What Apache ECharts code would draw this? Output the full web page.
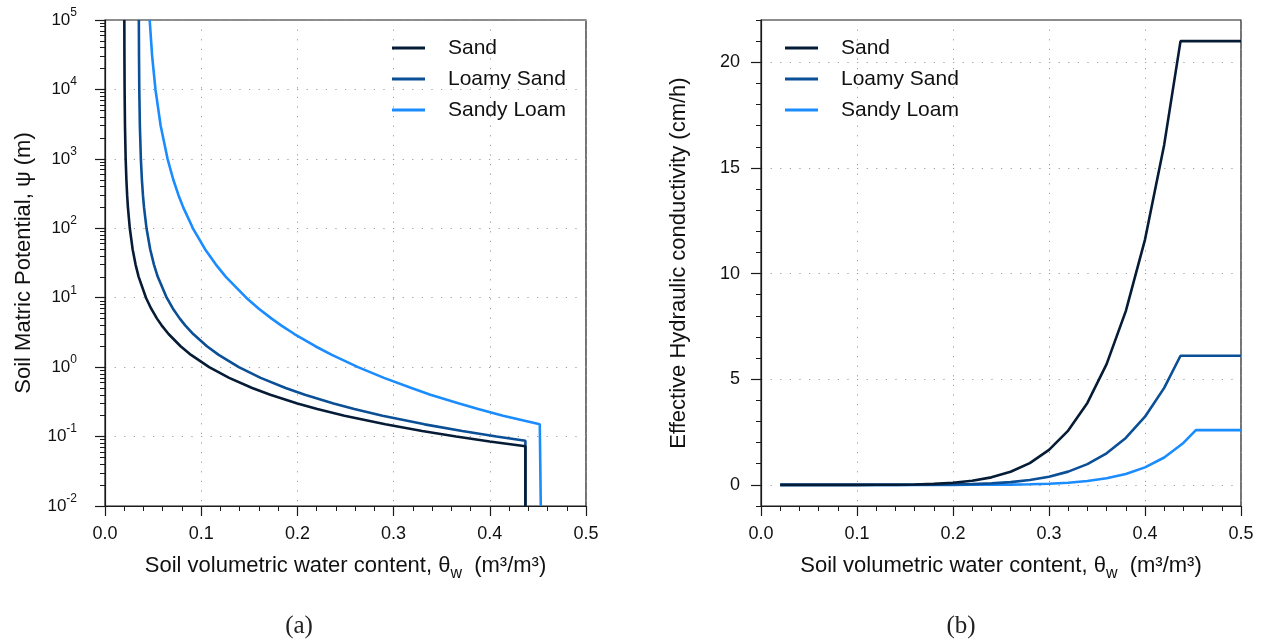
<!DOCTYPE html>
<html>
<head>
<meta charset="utf-8">
<script src="https://cdn.jsdelivr.net/npm/echarts@6/dist/echarts.min.js"></script>
<style>
  html, body { margin: 0; padding: 0; background: #ffffff; }
  #chart { width: 1267px; height: 641px; }
</style>
</head>
<body>
<div id="chart"></div>
<script>
// Soil classes and line colours
const soils = ['Sand', 'Loamy Sand', 'Sandy Loam'];
const colors = ['#061c36', '#0b4f96', '#1a8cff'];

// (a) Water retention: matric potential levels (m) and water content at each level
const psiLevels = [1e5, 3e4, 1e4, 3e3, 1e3, 500, 300, 200, 100, 50, 30, 20, 10, 7, 5, 4, 3, 2, 1.5, 1,
                   0.7, 0.5, 0.4, 0.3, 0.25, 0.2, 0.15, 0.12, 0.1, 0.085];
const thetaSand = [0.0201, 0.0202, 0.02038, 0.02077, 0.02148, 0.02223, 0.02301, 0.02383, 0.02578, 0.02871,
                   0.03178, 0.03498, 0.0426, 0.0479, 0.05405, 0.05885, 0.06607, 0.07859, 0.08943, 0.10828,
                   0.12905, 0.15302, 0.17183, 0.20002, 0.22062, 0.24893, 0.29143, 0.32971, 0.36498, 0.39989];
const thetaLoamySand = [0.03518, 0.03535, 0.03564, 0.03624, 0.03728, 0.03835, 0.03944, 0.04056, 0.04316, 0.04697,
                        0.05088, 0.05486, 0.06414, 0.07048, 0.07777, 0.08336, 0.09172, 0.10595, 0.11817, 0.13912,
                        0.16179, 0.18772, 0.20778, 0.23761, 0.25912, 0.2885, 0.3322, 0.37131, 0.40697, null];
const thetaSandyLoam = [0.04645, 0.04903, 0.05244, 0.05786, 0.06501, 0.07102, 0.07638, 0.08132, 0.09139, 0.10399,
                        0.11528, 0.12563, 0.14676, 0.15962, 0.17321, 0.18307, 0.19686, 0.21861, 0.23583, 0.26299,
                        0.29001, 0.31856, 0.33825, 0.36813, 0.3879, 0.41378, 0.45195, null, null, null];
const thetaSat = [0.437, 0.437, 0.453];      // saturated water content
const psiBubble = [0.0726, 0.0869, 0.1466];  // air-entry potential (m)
const psiFloor = 0.01;

// (b) Effective hydraulic conductivity (cm/h) on a water-content grid
const thetaGrid = [0.02, 0.04, 0.06, 0.08, 0.10, 0.12, 0.14, 0.16, 0.18, 0.20, 0.22,
                   0.24, 0.26, 0.28, 0.30, 0.32, 0.34, 0.36, 0.38, 0.40, 0.42, 0.44];
const kSand = [0, 0, 0, 0.0001, 0.0006, 0.0023, 0.0075, 0.0199, 0.0467, 0.0989, 0.194,
               0.356, 0.620, 1.032, 1.656, 2.571, 3.879, 5.712, 8.224, 11.61, 16.10, null];
const kLoamySand = [0, 0, 0, 0, 0, 0.0002, 0.0009, 0.0027, 0.0072, 0.0169, 0.036,
                    0.071, 0.131, 0.231, 0.388, 0.627, 0.983, 1.496, 2.222, 3.225, 4.590, null];
const kSandyLoam = [0, 0, 0, 0, 0, 0, 0, 0.0001, 0.0003, 0.0010, 0.0026,
                    0.0062, 0.0138, 0.0284, 0.0552, 0.1022, 0.1815, 0.3106, 0.514, 0.827, 1.296, 1.985];
const kSat = [21.0, 6.11, 2.59];

// Tick values
const logTicks = [1e-2, 1e-1, 1e0, 1e1, 1e2, 1e3, 1e4, 1e5];
const kTicks = [0, 5, 10, 15, 20];

const thetaBySoil = [thetaSand, thetaLoamySand, thetaSandyLoam];
const kBySoil = [kSand, kLoamySand, kSandyLoam];

// minor ticks of the log axis: 2..9 within each decade
const logMinor = [];
for (let d = -2; d < 5; d++) for (let m = 2; m <= 9; m++) logMinor.push(m * Math.pow(10, d));

function retention(i) {
  const pts = [];
  psiLevels.forEach((p, j) => { const t = thetaBySoil[i][j]; if (t != null) pts.push([t, p]); });
  pts.push([thetaSat[i], psiBubble[i]]);
  pts.push([thetaSat[i], psiFloor]);
  return pts;
}
function conductivity(i) {
  const pts = [];
  thetaGrid.forEach((t, j) => { const k = kBySoil[i][j]; if (k != null && t < thetaSat[i]) pts.push([t, k]); });
  pts.push([thetaSat[i], kSat[i]]);
  pts.push([0.5, kSat[i]]);
  return pts;
}

const FONT = '"Liberation Sans", Arial, sans-serif';
const AX = '#1a1a1a';
const dotted = { type: [1.2, 8.4], color: '#9a9a9a', width: 1 };

function xAxisDef(gridIndex) {
  return {
    type: 'value', gridIndex, min: 0, max: 0.5, interval: 0.1, position: 'bottom',
    name: '{b|Soil volumetric water content, θ}{s|w}{b|  (m³/m³)}',
    nameLocation: 'middle', nameGap: 52,
    nameTextStyle: {
      fontFamily: FONT, color: '#111',
      rich: {
        b: { fontFamily: FONT, fontSize: 22, lineHeight: 24, padding: [0, 0, 5, 0], verticalAlign: 'bottom', color: '#111' },
        s: { fontFamily: FONT, fontSize: 16, lineHeight: 17, verticalAlign: 'bottom', color: '#111' }
      }
    },
    axisLine: { show: true, onZero: false, lineStyle: { color: AX, width: 1.2 } },
    axisTick: { show: true, length: 10, lineStyle: { color: AX, width: 1.2 } },
    minorTick: { show: true, splitNumber: 5, length: 5, lineStyle: { color: AX, width: 1 } },
    axisLabel: { margin: 19, fontFamily: FONT, fontSize: 18, color: '#111', formatter: v => v.toFixed(1) },
    splitLine: { show: true, lineStyle: dotted },
    minorSplitLine: { show: false }
  };
}

const legendDef = left => ({
  data: soils, left, top: 36, padding: 0, orient: 'vertical', itemWidth: 33, itemHeight: 14, itemGap: 7,
  icon: 'path://M0,6 L33,6 L33,9 L0,9 Z',
  textStyle: { fontFamily: FONT, fontSize: 21, lineHeight: 24, color: '#111', padding: [0, 0, 0, 18] }
});

const option = {
  animation: false,
  backgroundColor: '#ffffff',
  grid: [
    { left: 105, top: 20, width: 481, height: 486, show: true, borderColor: AX, borderWidth: 1.2 },
    { left: 761, top: 20, width: 480, height: 486, show: true, borderColor: AX, borderWidth: 1.2 }
  ],
  legend: [legendDef(392), legendDef(785)],
  xAxis: [xAxisDef(0), xAxisDef(1)],
  yAxis: [
    {
      type: 'log', logBase: 10, gridIndex: 0, min: 0.01, max: 1e5, position: 'left',
      name: 'Soil Matric Potential, ψ (m)', nameLocation: 'middle', nameGap: 70,
      nameTextStyle: { fontFamily: FONT, fontSize: 22, color: '#111' },
      axisLine: { show: true, lineStyle: { color: AX, width: 1.2 } },
      axisTick: { show: true, length: 10, customValues: logTicks, lineStyle: { color: AX, width: 1.2 } },
      axisLabel: {
        customValues: logTicks, margin: 28, fontFamily: FONT, color: '#111',
        formatter: v => '{b|10}{s|' + Math.round(Math.log10(v)) + '}',
        rich: {
          b: { fontFamily: FONT, fontSize: 17, lineHeight: 17, verticalAlign: 'bottom', color: '#111' },
          s: { fontFamily: FONT, fontSize: 12, lineHeight: 12, padding: [0, 0, 10, 0], verticalAlign: 'bottom', color: '#111' }
        }
      },
      splitLine: { show: true, lineStyle: dotted }
    },
    {
      type: 'log', logBase: 10, gridIndex: 0, min: 0.01, max: 1e5, position: 'left',
      axisLine: { show: false },
      axisTick: { show: true, length: 5, customValues: logMinor, lineStyle: { color: AX, width: 1 } },
      axisLabel: { show: false },
      splitLine: { show: false }
    },
    {
      type: 'value', gridIndex: 1, min: -1, max: 22, position: 'left',
      name: 'Effective Hydraulic conductivity (cm/h)', nameLocation: 'middle', nameGap: 71,
      nameTextStyle: { fontFamily: FONT, fontSize: 22, color: '#111' },
      axisLine: { show: true, onZero: false, lineStyle: { color: AX, width: 1.2 } },
      axisTick: { show: true, length: 10, customValues: kTicks, lineStyle: { color: AX, width: 1.2 } },
      axisLabel: { customValues: kTicks, margin: 21, fontFamily: FONT, fontSize: 18, color: '#111' },
      splitLine: { show: true, lineStyle: dotted }
    },
    {
      type: 'value', gridIndex: 1, min: -1, max: 22, interval: 1, position: 'left',
      axisLine: { show: false, onZero: false },
      axisTick: { show: true, length: 5, lineStyle: { color: AX, width: 1 } },
      axisLabel: { show: false },
      splitLine: { show: false }
    }
  ],
  series: [],
  graphic: [
    { type: 'text', x: 299, y: 626, style: { text: '(a)', font: '25px "Liberation Serif", serif', fill: '#222', textAlign: 'center', textVerticalAlign: 'middle' } },
    { type: 'text', x: 961, y: 626, style: { text: '(b)', font: '25px "Liberation Serif", serif', fill: '#222', textAlign: 'center', textVerticalAlign: 'middle' } }
  ]
};

soils.forEach((name, i) => {
  const common = {
    name, type: 'line', showSymbol: false, symbol: 'none', z: 4 - i,
    lineStyle: { color: colors[i], width: 2.6 }, itemStyle: { color: colors[i] },
    emphasis: { disabled: true }
  };
  option.series.push(Object.assign({}, common, { xAxisIndex: 0, yAxisIndex: 0, data: retention(i) }));
  option.series.push(Object.assign({}, common, { xAxisIndex: 1, yAxisIndex: 2, data: conductivity(i) }));
});

const chart = echarts.init(document.getElementById('chart'), null, { renderer: 'canvas' });
chart.setOption(option);
</script>
</body>
</html>
